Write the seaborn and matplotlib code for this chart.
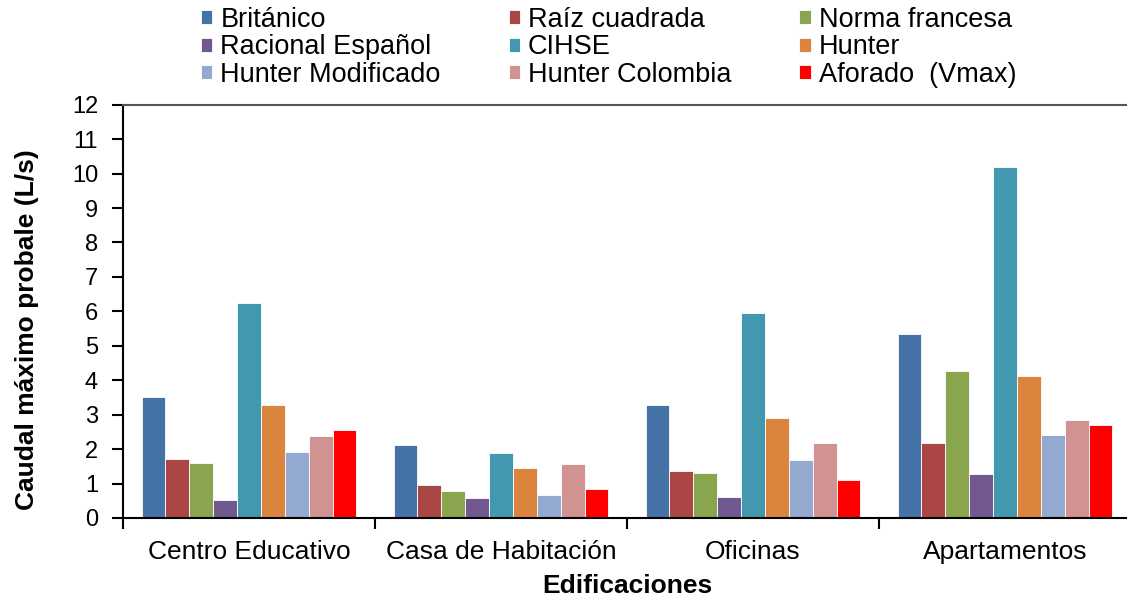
import numpy as np
import pandas as pd
import matplotlib
matplotlib.use('Agg')
import matplotlib.pyplot as plt
import seaborn as sns

# datos
edificaciones = ['Centro Educativo', 'Casa de Habitación', 'Oficinas', 'Apartamentos']
metodos = ['Británico', 'Raíz cuadrada', 'Norma francesa', 'Racional Español', 'CIHSE',
           'Hunter', 'Hunter Modificado', 'Hunter Colombia', 'Aforado  (Vmax)']

britanico = [3.52, 2.13, 3.27, 5.34]
raiz_cuadrada = [1.70, 0.95, 1.36, 2.17]
norma_francesa = [1.59, 0.78, 1.30, 4.27]
racional_espanol = [0.51, 0.58, 0.62, 1.27]
cihse = [6.23, 1.89, 5.96, 10.18]
hunter = [3.27, 1.45, 2.91, 4.12]
hunter_modificado = [1.92, 0.68, 1.68, 2.40]
hunter_colombia = [2.38, 1.56, 2.18, 2.85]
aforado = [2.56, 0.84, 1.09, 2.69]

colores = ['#4572A7', '#AA4643', '#89A54E', '#71588F', '#4198AF',
           '#DB843D', '#93A9CF', '#D19392', '#FF0000']

series = [britanico, raiz_cuadrada, norma_francesa, racional_espanol, cihse,
          hunter, hunter_modificado, hunter_colombia, aforado]

rows = []
for metodo, valores in zip(metodos, series):
    for edif, v in zip(edificaciones, valores):
        rows.append({'Edificacion': edif, 'Metodo': metodo, 'Caudal': v})
df = pd.DataFrame(rows)

sns.set_style('ticks')
plt.rcParams['font.family'] = ['Liberation Sans', 'DejaVu Sans']
plt.rcParams['text.color'] = 'black'
plt.rcParams['axes.labelcolor'] = 'black'
plt.rcParams['xtick.color'] = 'black'
plt.rcParams['ytick.color'] = 'black'

fig = plt.figure(figsize=(11.27, 6.02), dpi=100)
ax = fig.add_axes([123 / 1127, 84 / 602, 1008 / 1127, 413.3 / 602])

sns.barplot(data=df, x='Edificacion', y='Caudal', hue='Metodo', hue_order=metodos,
            palette=colores, width=0.853, gap=0, edgecolor='white', linewidth=0.6,
            saturation=1, errorbar=None, ax=ax)

handles, labels = ax.get_legend_handles_labels()
ax.get_legend().remove()

# la leyenda se llena por filas en el original
orden = [0, 3, 6, 1, 4, 7, 2, 5, 8]
fig.legend([handles[i] for i in orden], [labels[i] for i in orden],
           loc='upper left', bbox_to_anchor=(201 / 1127, 1 - 7 / 602), ncol=3,
           frameon=False, fontsize=19.5, borderpad=0, borderaxespad=0,
           handlelength=0.42, handleheight=0.42, handletextpad=0.3,
           labelspacing=0.05, columnspacing=2.5)

ax.set_ylim(0, 12)
ax.set_xlim(-0.5, 3.5)
ax.set_yticks(range(0, 13))
ax.tick_params(axis='y', labelsize=17, length=8, width=1.5, pad=10)
ax.set_xticks(range(4))
ax.set_xticks([-0.5, 0.5, 1.5, 2.5, 3.5], minor=True)
ax.tick_params(axis='x', which='major', length=0, labelsize=19, pad=16)
ax.tick_params(axis='x', which='minor', length=8, width=1.5)

ax.set_xlabel('Edificaciones', fontsize=19, fontweight='bold')
ax.set_ylabel('Caudal máximo probale (L/s)', fontsize=19, fontweight='bold')
ax.xaxis.set_label_coords(0.5, -0.135)
ax.yaxis.set_label_coords(-0.083, 0.455)

for side in ['left', 'bottom']:
    ax.spines[side].set_color('black')
    ax.spines[side].set_linewidth(1.5)
ax.spines['top'].set_visible(True)
ax.spines['top'].set_color('#555555')
ax.spines['top'].set_linewidth(1.5)
ax.spines['right'].set_visible(False)

fig.savefig('out.png', dpi=100)
